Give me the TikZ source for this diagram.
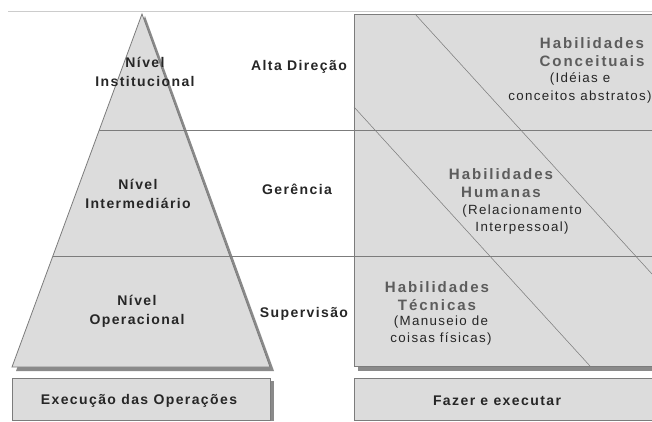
\documentclass[tikz,border=0pt]{standalone}
\usepackage{fontspec}
\setmainfont{Liberation Sans}
\newfontfamily\widesans[LetterSpace=10]{Liberation Sans}
\newfontfamily\widersans[LetterSpace=13]{Liberation Sans}
\usepackage{xcolor}
\usepackage{tikz}
\definecolor{panel}{HTML}{DCDCDC}
\definecolor{shadow}{HTML}{8A8A8A}
\definecolor{rule}{HTML}{7C7C7C}
\definecolor{skillgray}{HTML}{5C5C5C}
\definecolor{inkgray}{HTML}{262626}

\begin{document}
\begin{tikzpicture}[x=0.75pt,y=-0.75pt,
    level/.style={font=\widesans\bfseries\fontsize{10.5}{14}\selectfont,text=inkgray,align=center,inner sep=0pt},
    skill/.style={font=\widersans\bfseries\fontsize{11.3}{13.8}\selectfont,text=skillgray,align=center,inner sep=0pt},
    note/.style={font=\widesans\fontsize{10}{12.8}\selectfont,text=inkgray,align=center,inner sep=0pt},
    panelbox/.style={fill=panel,draw=rule,line width=0.6pt}]
    \clip (0,0) rectangle (652,421);
    \fill[white] (0,0) rectangle (652,421);
    \draw[black!20,line width=0.5pt] (8,11) -- (652,11);
    \coordinate (apex) at (142,14);
    \coordinate (baseL) at (12,367);
    \coordinate (baseR) at (270,367);
    \fill[shadow] (145,16) -- (274,371) -- (16,371) -- cycle;
    \draw[panelbox] (apex) -- (baseR) -- (baseL) -- cycle;
    \fill[shadow] (358,366) rectangle (660,371);
    \draw[panelbox] (354,14) rectangle (660,366);
    \fill[shadow] (270,381) rectangle (274,421);
    \draw[panelbox] (12,378) rectangle (270,420);
    \draw[panelbox] (354,378) rectangle (660,420);
    \draw[rule,line width=0.6pt] (99.3,130) -- (652,130);
    \draw[rule,line width=0.6pt] (53,256) -- (652,256);
    \draw[rule,line width=0.4pt] (415,14) -- (652,274);
    \draw[rule,line width=0.4pt] (354,107) -- (590,366);
    \node[level] (inst) at (145,72) {Nível\\Institucional};
    \node[level] (inter) at (138,194) {Nível\\Intermediário};
    \node[level] (oper) at (137,311) {Nível\\Operacional};
    \node[level] (alta) at (299,67) {Alta Direção};
    \node[level] (ger) at (297,189) {Gerência};
    \node[level] (sup) at (304,314) {Supervisão};
    \node[skill] (conc) at (592,52) {Habilidades\\Conceituais};
    \node[note] (concnote) at (580,88) {(Idéias e\\conceitos abstratos)};
    \node[skill] (hum) at (501,183) {Habilidades\\Humanas};
    \node[note] (humnote) at (522,220) {(Relacionamento\\Interpessoal)};
    \node[skill] (tec) at (437,296) {Habilidades\\Técnicas};
    \node[note] (tecnote) at (441,331) {(Manuseio de\\coisas físicas)};
    \node[level] (exec) at (139,401) {Execução das Operações};
    \node[level] (fazer) at (497,401) {Fazer e executar};
  \end{tikzpicture}
\end{document}
